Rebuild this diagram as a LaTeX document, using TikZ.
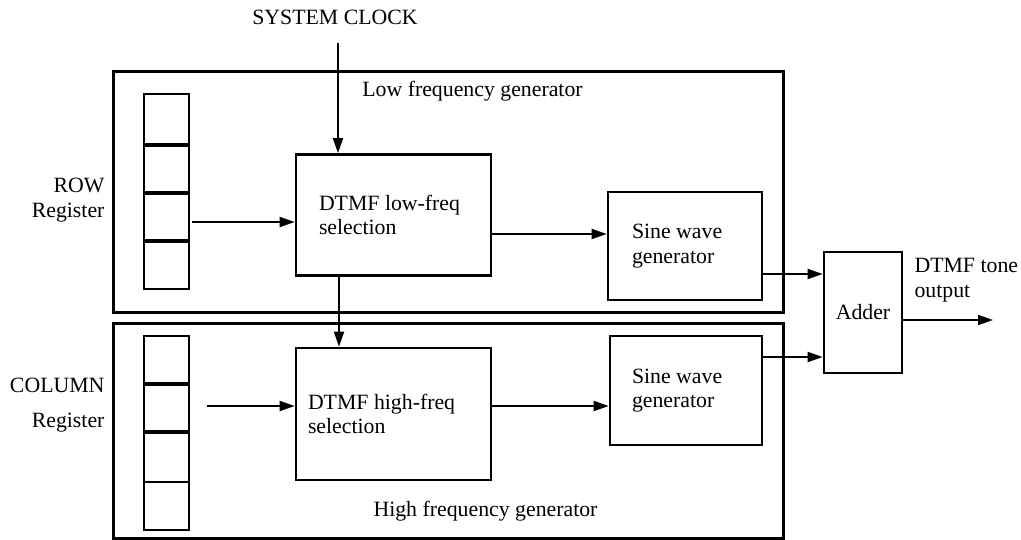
\documentclass[tikz,border=0pt]{standalone}
\usepackage{fontspec}
\setmainfont{Liberation Serif}
\usetikzlibrary{positioning,calc,arrows.meta}

\begin{document}
\begin{tikzpicture}[x=1pt,y=-1pt,font=\fontsize{21.8}{24.5}\selectfont,
    >={Triangle[length=15pt,width=10pt]},
    frame/.style={draw,line width=3pt,inner sep=0pt},
    block/.style={draw,line width=2.7pt,align=flush left,inner ysep=0pt},
    register/.style={draw,line width=2.5pt,inner sep=0pt,minimum width=45pt},
    link/.style={->,line width=2pt}]
   \useasboundingbox (0,0) rectangle (1021,540);
   % generator frames
   \node[frame, minimum width=670pt, minimum height=241pt] (lowgen)  at (448,192.5) {};
   \node[frame, minimum width=670pt, minimum height=214pt] (highgen) at (448,431) {};
   \node (lowlbl)  at (472.5,91)  {Low frequency generator};
   \node (highlbl) at (485.5,511) {High frequency generator};
   % registers
   \node[register, minimum height=195pt] (rowreg) at (166.5,191.5) {};
   \node[register, minimum height=194pt] (colreg) at (166.5,433) {};
   \foreach \y in {145,193,241}
      \draw[line width=4pt] (rowreg.west |- 0,\y) -- (rowreg.east |- 0,\y);
   \foreach \y in {384,432}
      \draw[line width=4pt] (colreg.west |- 0,\y) -- (colreg.east |- 0,\y);
   \draw[line width=2.5pt] (colreg.west |- 0,482) -- (colreg.east |- 0,482);
   \node[align=right, anchor=east] (rowlbl) at (108,200) {ROW\\Register};
   \node[align=right, anchor=east] (collbl) at (108,405) {COLUMN\\[11pt]Register};
   % blocks
   \node[block, text width=149pt, inner xsep=23pt, minimum height=121pt] (lowsel)  at (393.5,215) {DTMF low-freq\\selection};
   \node[block, text width=171pt, inner xsep=12pt, minimum height=132pt] (highsel) at (393.5,414) {DTMF high-freq\\selection};
   \node[block, text width=106pt, inner xsep=24pt, minimum height=108pt] (lowsine)  at (685,246)   {Sine wave\\generator};
   \node[block, text width=108pt, inner xsep=22pt, minimum height=109pt] (highsine) at (686,390.5) {Sine wave\\generator};
   \node[block, align=center, inner xsep=0pt, minimum width=78pt, minimum height=121pt] (adder) at (863,312.5) {Adder};
   \node (clock) at (335,17) {SYSTEM CLOCK};
   \node[align=left, anchor=west] (outlbl) at (911,280) {DTMF tone\\output};
   % connectors
   \coordinate (clk)    at (338,43);
   \coordinate (rowout) at (192,222);
   \coordinate (colout) at (207,406);
   \coordinate (out)    at (993,320);
   \draw[link] (clk) -- (clk |- lowsel.north);
   \draw[link] (rowout) -- (rowout -| lowsel.west);
   \draw[link] (colout) -- (colout -| highsel.west);
   \draw[link] ($(lowsel.south)+(-54.5,0)$) -- ($(highsel.north)+(-54.5,0)$);
   \draw[link] ($(lowsel.east)+(0,19)$) -- ($(lowsine.west)+(0,-12)$);
   \draw[link] ($(highsel.east)+(0,-8)$) -- ($(highsine.west)+(0,15.5)$);
   \draw[link] ($(lowsine.east)+(0,28)$) -- ($(adder.west)+(0,-38.5)$);
   \draw[link] ($(highsine.east)+(0,-33.5)$) -- ($(adder.west)+(0,44.5)$);
   \draw[link] ($(adder.east)+(0,7.5)$) -- (out);
\end{tikzpicture}
\end{document}
